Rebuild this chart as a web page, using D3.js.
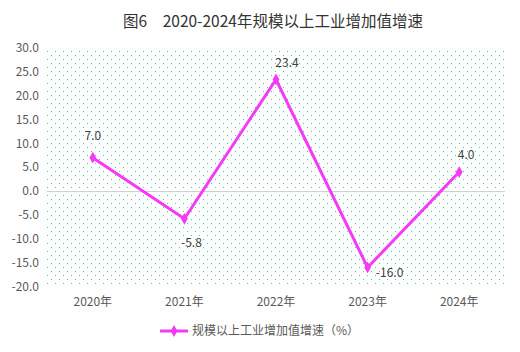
<!DOCTYPE html>
<html>
<head>
<meta charset="utf-8">
<script src="https://cdn.jsdelivr.net/npm/d3@7"></script>
<style>
  body { margin: 0; background: #fff; }
  svg text { font-family: "Noto Sans CJK SC", "Noto Sans", sans-serif; }
</style>
</head>
<body>
<div id="chart"></div>
<script>
const years = ["2020年", "2021年", "2022年", "2023年", "2024年"];
const growth = [7.0, -5.8, 23.4, -16.0, 4.0];
const yTicks = [30, 25, 20, 15, 10, 5, 0, -5, -10, -15, -20];
const seriesName = "规模以上工业增加值增速（%）";
const title = "图6　2020-2024年规模以上工业增加值增速";

const width = 520, height = 352;
const margin = {top: 48, right: 15, bottom: 65, left: 47};

const svg = d3.select("#chart")
    .append("svg")
    .attr("width", width)
    .attr("height", height);

// dotted background
const defs = svg.append("defs");
const pat = defs.append("pattern")
    .attr("id", "dots")
    .attr("patternUnits", "userSpaceOnUse")
    .attr("x", margin.left)
    .attr("y", 51)
    .attr("width", 8)
    .attr("height", 8);
pat.append("rect").attr("x", 0).attr("y", 0).attr("width", 1).attr("height", 1)
    .attr("fill", "#3cc8cc").attr("shape-rendering", "crispEdges");
pat.append("rect").attr("x", 4).attr("y", 4).attr("width", 1).attr("height", 1)
    .attr("fill", "#3cc8cc").attr("shape-rendering", "crispEdges");

const x = d3.scaleBand()
    .domain(years)
    .range([margin.left, width - margin.right]);

const y = d3.scaleLinear()
    .domain([-20, 30])
    .range([height - margin.bottom - 0.5, margin.top]);

svg.append("rect")
    .attr("x", margin.left)
    .attr("y", 50)
    .attr("width", width - margin.right - margin.left)
    .attr("height", y(-20) - 50)
    .attr("fill", "url(#dots)")
    .attr("shape-rendering", "crispEdges");

// title
svg.append("text")
    .attr("x", 273)
    .attr("y", 27)
    .attr("text-anchor", "middle")
    .attr("font-size", 15.5)
    .attr("fill", "#333")
    .text(title);

// y axis labels
svg.selectAll(".ytick")
    .data(yTicks)
    .join("text")
    .attr("class", "ytick")
    .attr("x", 39)
    .attr("y", d => y(d))
    .attr("dy", "0.35em")
    .attr("text-anchor", "end")
    .attr("font-size", 12)
    .attr("fill", "#595959")
    .text(d => d.toFixed(1));

// zero line
svg.append("line")
    .attr("x1", margin.left)
    .attr("x2", width - margin.right)
    .attr("y1", Math.round(y(0)) + 0.5)
    .attr("y2", Math.round(y(0)) + 0.5)
    .attr("stroke", "#d0d0d0")
    .attr("stroke-width", 1);

// x labels
svg.selectAll(".xtick")
    .data(years)
    .join("text")
    .attr("class", "xtick")
    .attr("x", d => x(d) + x.bandwidth() / 2)
    .attr("y", 306)
    .attr("text-anchor", "middle")
    .attr("font-size", 12)
    .attr("fill", "#595959")
    .text(d => d);

const color = "#f53af5";
const pts = years.map((d, i) => [x(d) + x.bandwidth() / 2, y(growth[i])]);

svg.append("path")
    .datum(pts)
    .attr("d", d3.line())
    .attr("fill", "none")
    .attr("stroke", color)
    .attr("stroke-width", 3)
    .attr("stroke-linejoin", "miter");

const diamond = d3.symbol().type(d3.symbolDiamond).size(40);
svg.selectAll(".mark")
    .data(pts)
    .join("path")
    .attr("class", "mark")
    .attr("transform", d => `translate(${d[0]},${d[1]})`)
    .attr("d", diamond)
    .attr("fill", color);

// data labels
const labelOffsets = [[0, -22], [7, 24], [11, -17], [22, 5], [7, -17]];
svg.selectAll(".vlabel")
    .data(growth)
    .join("text")
    .attr("class", "vlabel")
    .attr("x", (d, i) => pts[i][0] + labelOffsets[i][0])
    .attr("y", (d, i) => pts[i][1] + labelOffsets[i][1])
    .attr("dy", "0.35em")
    .attr("text-anchor", "middle")
    .attr("font-size", 12)
    .attr("fill", "#404040")
    .text(d => d.toFixed(1));

// legend
const lg = svg.append("g").attr("transform", "translate(160,331)");
lg.append("line")
    .attr("x1", 0).attr("x2", 28)
    .attr("y1", 0).attr("y2", 0)
    .attr("stroke", color)
    .attr("stroke-width", 3);
lg.append("path")
    .attr("transform", "translate(14,0)")
    .attr("d", diamond)
    .attr("fill", color);
lg.append("text")
    .attr("x", 32)
    .attr("y", 0)
    .attr("dy", "0.35em")
    .attr("font-size", 12)
    .attr("fill", "#595959")
    .text(seriesName);
</script>
</body>
</html>
